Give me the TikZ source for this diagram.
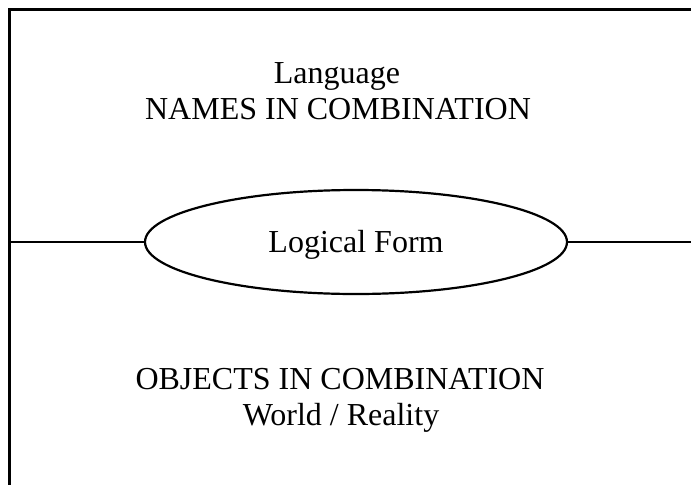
\documentclass[tikz,border=0pt]{standalone}
\usepackage{fontspec}
\setmainfont{Liberation Serif}
\usetikzlibrary{shapes.geometric}
\begin{document}
\begin{tikzpicture}[x=1pt,y=-1pt,
  frame/.style={line width=2.2pt},
  label/.style={font=\fontsize{32}{36}\selectfont, inner sep=0pt, anchor=base},
  formoval/.style={ellipse, draw, line width=2.2pt, minimum width=422pt,
    minimum height=104pt, inner sep=0pt, font=\fontsize{32}{36}\selectfont,
    text height=21pt, text depth=0pt}]
  \useasboundingbox (0,0) rectangle (691,485);

  % outer frame: top edge and left edge
  \coordinate (tr) at (691,9.5);
  \coordinate (tl) at (9.5,9.5);
  \coordinate (bl) at (9.5,485);
  \draw[frame] (tr) -- (tl) -- (bl);

  % the logical form between language and world
  \node[formoval] (lf) at (356,242) {Logical Form};
  \coordinate (ml) at (9.5,242);
  \coordinate (mr) at (691,242);
  \draw[frame] (ml) -- (lf.west);
  \draw[frame] (lf.east) -- (mr);

  % upper half: language
  \node[label] (lang)  at (337,83)  {Language};
  \node[label] (names) at (338,119) {NAMES IN COMBINATION};

  % lower half: world
  \node[label] (objs)  at (340,389) {OBJECTS IN COMBINATION};
  \node[label] (world) at (341,425) {World / Reality};
\end{tikzpicture}
\end{document}
